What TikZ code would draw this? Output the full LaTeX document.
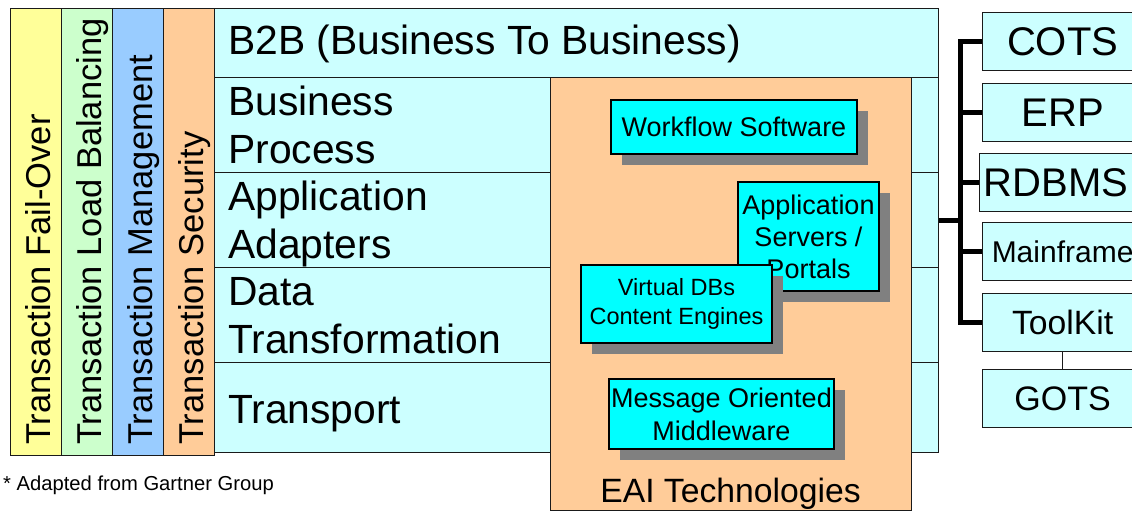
\documentclass[tikz,border=0pt]{standalone}
\usepackage{fontspec}
\setmainfont{Liberation Sans}
\usetikzlibrary{shadows}

\definecolor{cyanlight}{HTML}{CCFFFF}
\definecolor{cyanbright}{HTML}{00FFFF}
\definecolor{ylw}{HTML}{FFFF99}
\definecolor{grn}{HTML}{CCFFCC}
\definecolor{blu}{HTML}{99CCFF}
\definecolor{org}{HTML}{FFCC99}
\definecolor{shade}{HTML}{808080}
\definecolor{edge}{HTML}{1A1A1A}

\newcommand{\fs}[2]{\fontsize{#1}{#2}\selectfont}

\tikzset{
  plain/.style={draw=edge, line width=1.2pt, inner sep=0pt, anchor=north west},
  column/.style={plain, minimum width=51pt, minimum height=447pt},
  coltext/.style={rotate=90, anchor=base west, inner sep=0pt, font=\fs{34.5}{40}},
  rowbox/.style={plain, fill=cyanlight, minimum width=724pt},
  rowtext/.style={anchor=base west, inner sep=0pt, align=left, font=\fs{40.8}{48}},
  tech/.style={draw=black, line width=1.3pt, fill=cyanbright, inner sep=0pt, align=center,
    drop shadow={shadow xshift=11pt, shadow yshift=-11pt, fill=shade, opacity=1}},
  sysbox/.style={draw=edge, line width=1.2pt, fill=cyanlight, inner sep=0pt, minimum height=58pt},
  bus/.style={line width=5pt, black},
}

\begin{document}
\begin{tikzpicture}[x=1pt, y=-1pt]
\useasboundingbox (0,0) rectangle (1132,511);
\clip (0,0) rectangle (1132,511);
\fill[white] (0,0) rectangle (1132,511);

% vertical cross-cutting transaction services
\node[column, fill=ylw] (failover) at (10,8) {};
\node[column, fill=grn] (loadbal) at (61,8) {};
\node[column, fill=blu] (mgmt) at (112,8) {};
\node[column, fill=org] (security) at (163,8) {};
\node[coltext] at (50,445) {Transaction Fail-Over};
\node[coltext] at (101,445) {Transaction Load Balancing};
\node[coltext] at (152,445) {Transaction Management};
\node[coltext] at (203,445) {Transaction Security};

% integration layers
\node[rowbox, minimum height=69pt] (b2b) at (214,8) {};
\node[rowbox, minimum height=95pt] (bp) at (214,77) {};
\node[rowbox, minimum height=95pt] (aa) at (214,172) {};
\node[rowbox, minimum height=95pt] (dt) at (214,267) {};
\node[rowbox, minimum height=90pt] (tr) at (214,362) {};
% two-line labels are anchored on the baseline of their last line
\node[rowtext] at (228,55) {B2B (Business To Business)};
\node[rowtext] at (228,163) {Business\\Process};
\node[rowtext] at (228,258) {Application\\Adapters};
\node[rowtext] at (228,353) {Data\\Transformation};
\node[rowtext] at (228,423) {Transport};

% EAI technologies panel
\node[plain, fill=org, minimum width=361pt, minimum height=433pt] (eai) at (550,77) {};
\node[anchor=base, inner sep=0pt, font=\fs{33.7}{40}] at (730.5,502) {EAI Technologies};

\node[tech, minimum width=246pt, minimum height=54pt, font=\fs{27}{32}] (wf) at (734,127) {Workflow Software};
\node[tech, minimum width=141pt, minimum height=109pt, font=\fs{27}{32}] (as) at (808.5,236.5) {Application\\Servers /\\Portals};
\node[tech, minimum width=191pt, minimum height=78pt, font=\fs{23.5}{29}] (vdb) at (676.5,304) {Virtual DBs\\Content Engines};
\node[tech, minimum width=225pt, minimum height=70pt, font=\fs{27}{33}] (mom) at (721.5,414) {Message Oriented\\Middleware};

% connected systems
\node[sysbox, anchor=north west, minimum width=160pt, font=\fs{40}{48}] (cots) at (982,12) {COTS};
\node[sysbox, anchor=north west, minimum width=160pt, font=\fs{40}{48}] (erp) at (982,83) {ERP};
\node[sysbox, anchor=north west, minimum width=163pt, font=\fs{40}{48}] (rdbms) at (979,153) {\hspace*{-10pt}RDBMS};
\node[sysbox, anchor=north west, minimum width=160pt, font=\fs{30}{36}] (main) at (982,222) {Mainframe};
\node[sysbox, anchor=north west, minimum width=160pt, font=\fs{33.7}{40}] (tool) at (982,293) {ToolKit};
\node[sysbox, anchor=north west, minimum width=160pt, font=\fs{34}{40}] (gots) at (982,369) {GOTS};

% bus from the layer stack to the systems
\coordinate (jt) at (960,220);
\draw[bus] (b2b.east |- jt) -- (jt);
\draw[bus] (cots.west) -- (jt |- cots.west) -- (jt |- tool.west) -- (tool.west);
\draw[bus] (jt |- erp.west) -- (erp.west);
\draw[bus] (jt |- rdbms.west) -- (rdbms.west);
\draw[bus] (jt |- main.west) -- (main.west);
\draw[line width=1pt, edge] (tool.south -| 1062,0) -- (gots.north -| 1062,0);

% note
\node[anchor=base west, inner sep=0pt, font=\fs{20.2}{24}] at (3,490) {* Adapted from Gartner Group};
\end{tikzpicture}
\end{document}
